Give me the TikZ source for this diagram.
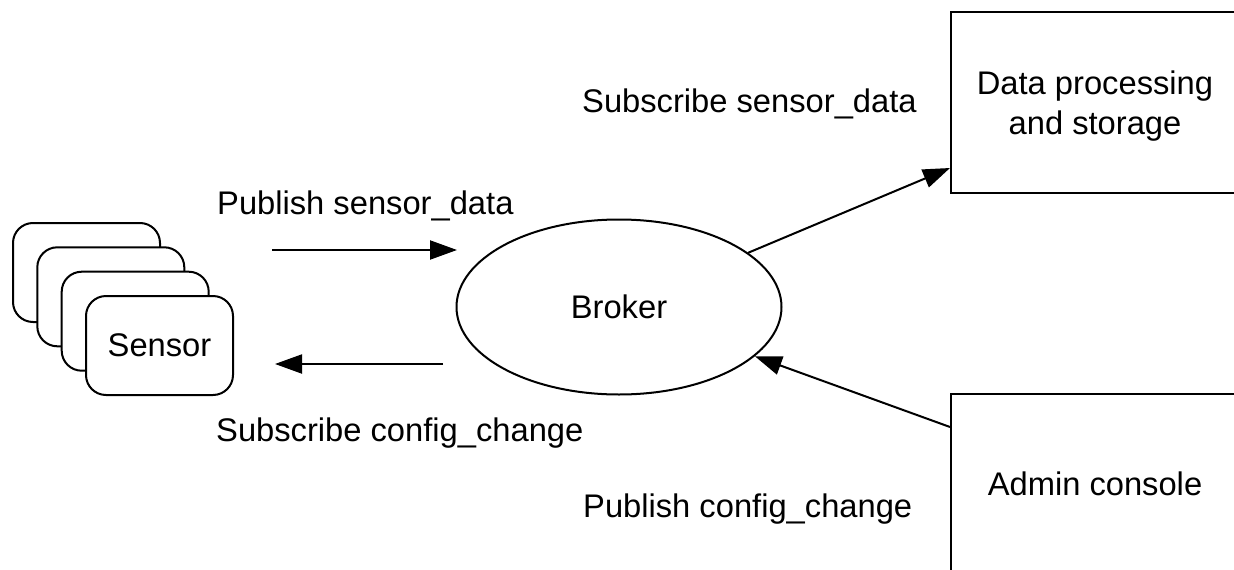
\documentclass[tikz,border=0pt]{standalone}
\usepackage{fontspec}
\setmainfont{Liberation Sans}
\usetikzlibrary{shapes.geometric,arrows.meta,calc}
\begin{document}
\begin{tikzpicture}[x=1pt,y=-1pt,
  every node/.style={font=\fontsize{32.7}{36}\selectfont, inner sep=0pt},
  ln/.style={line width=2pt},
  sbox/.style={draw, ln, fill=white, rounded corners=20pt, minimum width=147pt, minimum height=99pt},
  bigbox/.style={draw, ln, rectangle, align=center, minimum width=288pt},
  arr/.style={ln, -{Triangle[length=27pt,width=19pt]}},
  lbl/.style={anchor=base west}]
\useasboundingbox (0,0) rectangle (1234,570);
\clip (0,0) rectangle (1234,570);
% sensor stack
\node[sbox] (s1) at (86.5,272.5) {};
\node[sbox] (s2) at (110.8,296.8) {};
\node[sbox] (s3) at (135.2,321.2) {};
\node[sbox] (sensor) at (159.5,345.5) {Sensor};
% broker
\node[draw, ln, ellipse, minimum width=325pt, minimum height=175pt] (broker) at (619,307) {Broker};
% right boxes
\node[bigbox, minimum height=181pt] (dps) at (1095,102.5) {};
\node[align=center, font=\fontsize{32.7}{40}\selectfont] (dpstext) at (1095,106) {Data processing\\and storage};
\node[bigbox, minimum height=180pt] (adm) at (1095,484) {Admin console};
% horizontal arrows
\coordinate (pa) at (272,250);
\coordinate (pb) at (457,250);
\coordinate (qa) at (443,364);
\coordinate (qb) at (275,364);
\draw[arr] (pa) -- (pb);
\draw[arr] (qa) -- (qb);
% diagonal arrows
\draw[arr] (broker) -- ($(dps.south west)+(0,-26)$);
\draw[arr] ($(adm.north west)+(0,34)$) -- (broker);
% labels
\node[lbl] (l1) at (217,214) {Publish sensor\_data};
\node[lbl] (l2) at (216,441) {Subscribe config\_change};
\node[lbl] (l3) at (582,112) {Subscribe sensor\_data};
\node[lbl] (l4) at (583,517) {Publish config\_change};
\end{tikzpicture}
\end{document}
